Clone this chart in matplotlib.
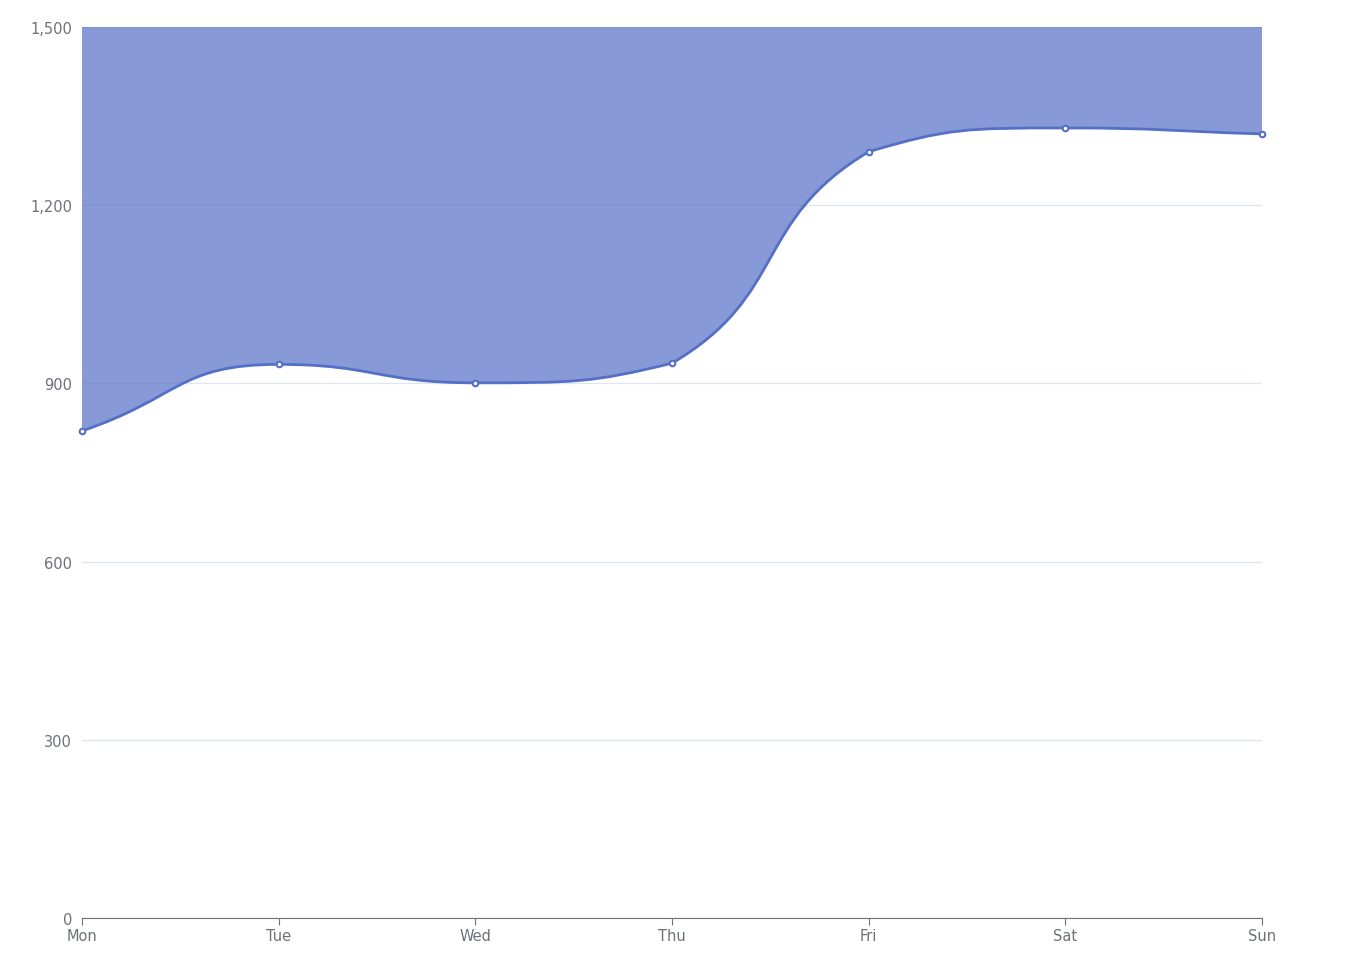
import numpy as np
import matplotlib.pyplot as plt
from matplotlib.path import Path
from matplotlib.patches import PathPatch

# ==========================================
# DATA
# ==========================================

days = ["Mon", "Tue", "Wed", "Thu", "Fri", "Sat", "Sun"]
values = [820, 932, 901, 934, 1290, 1330, 1320]
y_ticks = [0, 300, 600, 900, 1200, 1500]
y_max = 1500

BLUE = "#5470c6"
LABEL = "#6E7079"
GRID = "#E0E6F1"

# ==========================================
# FIGURE
# ==========================================

fig = plt.figure(figsize=(13.51, 9.62), dpi=100)
ax = fig.add_axes([82 / 1351, 1 - 919 / 962, (1262 - 82) / 1351, (919 - 28) / 962])

x = np.arange(len(days))
ax.set_xlim(0, len(days) - 1)
ax.set_ylim(0, y_max)


# smooth curve like echarts (bezier control points in pixel space,
# flat tangent at local extrema, control points kept between neighbours)
def smooth_path(xs, ys, smooth=0.5):
    pts = ax.transData.transform(np.column_stack([xs, ys]))
    n = len(pts)
    verts = [pts[0]]
    codes = [Path.MOVETO]
    cps = []
    for i in range(n):
        prev = pts[i - 1] if i > 0 else pts[i]
        nxt = pts[i + 1] if i < n - 1 else pts[i]
        v = (nxt - prev).copy()
        d0 = pts[i] - prev
        d1 = nxt - pts[i]
        if d0[1] * d1[1] <= 0 and 0 < i < n - 1:
            v[1] = 0
        l0 = np.hypot(*d0)
        l1 = np.hypot(*d1)
        r = l1 / (l0 + l1) if (l0 + l1) > 0 else 0.5
        cp_in = pts[i] - v * smooth * (1 - r)
        cp_out = pts[i] + v * smooth * r
        lo, hi = min(prev[1], pts[i][1]), max(prev[1], pts[i][1])
        cp_in[1] = np.clip(cp_in[1], lo, hi)
        lo, hi = min(nxt[1], pts[i][1]), max(nxt[1], pts[i][1])
        cp_out[1] = np.clip(cp_out[1], lo, hi)
        cps.append((cp_in, cp_out))
    for i in range(n - 1):
        verts += [cps[i][1], cps[i + 1][0], pts[i + 1]]
        codes += [Path.CURVE4] * 3
    verts = ax.transData.inverted().transform(np.array(verts))
    return verts, codes


verts, codes = smooth_path(x, values)

# area from the line up to the top of the axis
area_verts = list(verts) + [(x[-1], y_max), (x[0], y_max), tuple(verts[0])]
area_codes = list(codes) + [Path.LINETO, Path.LINETO, Path.CLOSEPOLY]
ax.add_patch(PathPatch(Path(area_verts, area_codes), facecolor=BLUE, alpha=0.7,
                       edgecolor="none", zorder=2))
ax.add_patch(PathPatch(Path(verts, codes), facecolor="none", edgecolor=BLUE,
                       lw=2, zorder=3))
ax.plot(x, values, "o", ms=4, mfc="white", mec=BLUE, mew=1.5, zorder=4, clip_on=False)

# ==========================================
# AXES STYLE
# ==========================================

ax.set_yticks(y_ticks)
ax.set_yticklabels([f"{v:,}" for v in y_ticks])
ax.set_xticks(x)
ax.set_xticklabels(days)
ax.grid(axis="y", color=GRID, lw=1, zorder=0)
for s in ["top", "right", "left"]:
    ax.spines[s].set_visible(False)
ax.spines["bottom"].set_color(LABEL)
ax.spines["bottom"].set_zorder(5)
ax.tick_params(axis="y", length=0, pad=7, labelcolor=LABEL, labelsize=10.5)
ax.tick_params(axis="x", length=5, color=LABEL, pad=2, labelcolor=LABEL, labelsize=10.5)

plt.savefig("out.png", dpi=100)
plt.close()
